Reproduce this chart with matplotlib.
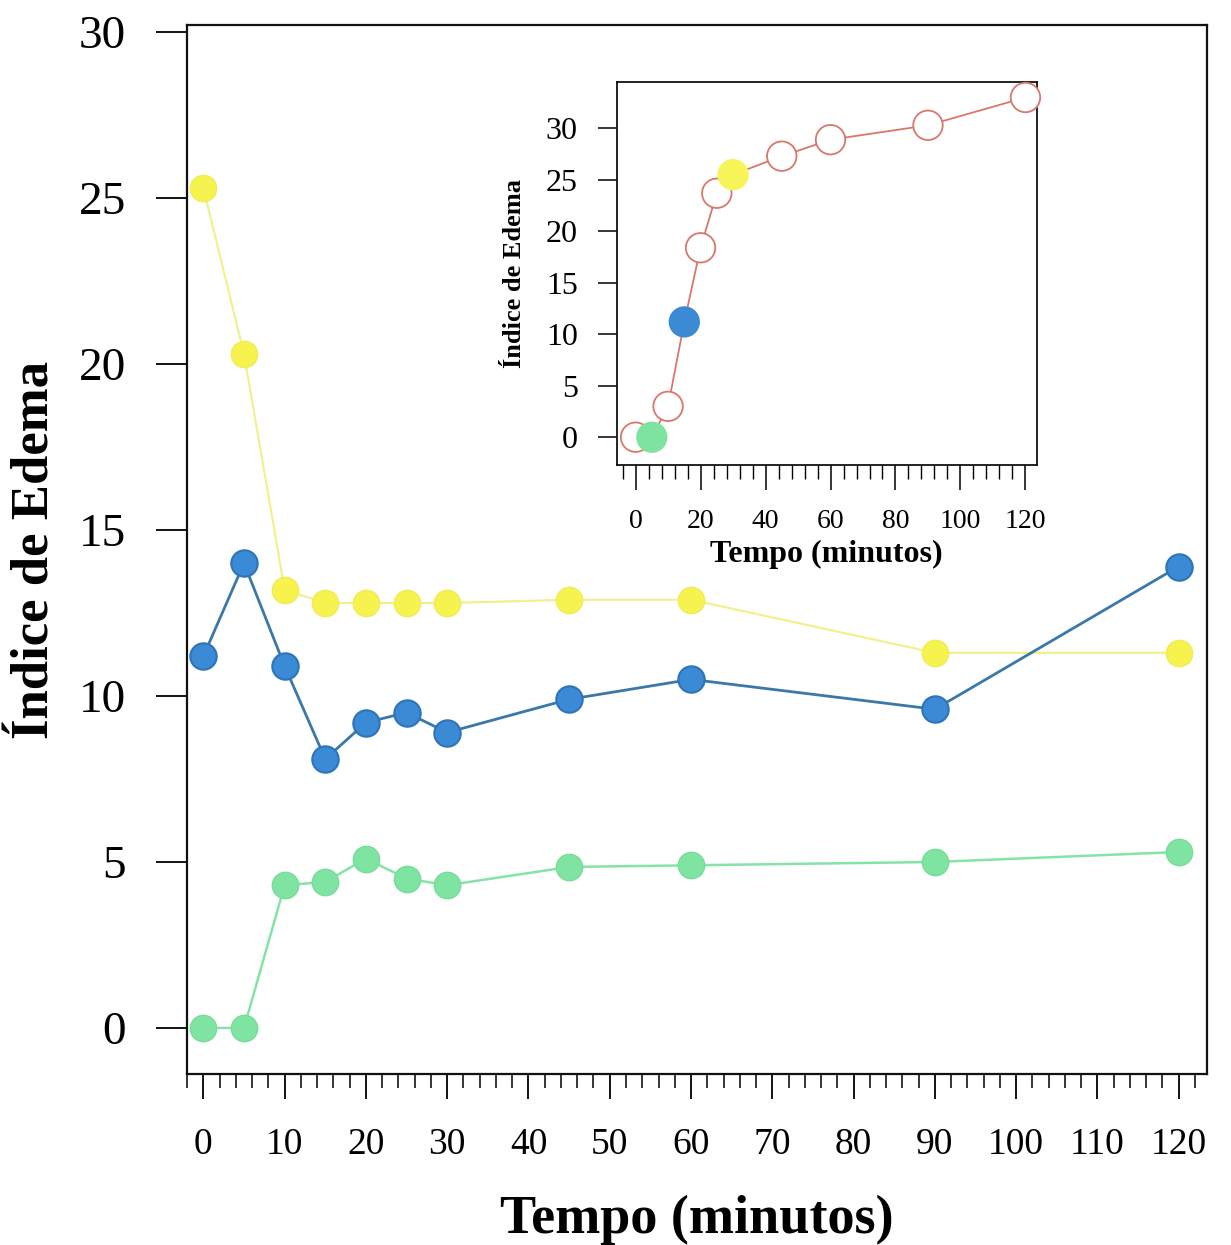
import matplotlib
matplotlib.use("Agg")
import matplotlib.pyplot as plt
from matplotlib.ticker import MultipleLocator

plt.rcParams['font.family'] = ['Liberation Serif', 'DejaVu Serif']

# Main chart data
tempo = [0, 5, 10, 15, 20, 25, 30, 45, 60, 90, 120]
amarelo = [25.3, 20.3, 13.2, 12.8, 12.8, 12.8, 12.8, 12.9, 12.9, 11.3, 11.3]
azul = [11.2, 14.0, 10.9, 8.1, 9.2, 9.5, 8.9, 9.9, 10.5, 9.6, 13.9]
verde = [0.0, 0.0, 4.3, 4.4, 5.1, 4.5, 4.3, 4.85, 4.9, 5.0, 5.3]

# Inset data
tempo_inset = [0, 5, 10, 15, 20, 25, 30, 45, 60, 90, 120]
edema_inset = [0.0, 0.0, 3.0, 11.2, 18.4, 23.7, 25.5, 27.3, 28.9, 30.3, 33.0]
cores_inset = ['white', '#7de39f', 'white', '#3a8bd4', 'white', 'white',
               '#f7f457', 'white', 'white', 'white', 'white']

y_ticks = [0, 5, 10, 15, 20, 25, 30]
x_ticks = [0, 10, 20, 30, 40, 50, 60, 70, 80, 90, 100, 110, 120]
inset_y_ticks = [0, 5, 10, 15, 20, 25, 30]
inset_x_ticks = [0, 20, 40, 60, 80, 100, 120]

fig = plt.figure(figsize=(12.31, 12.45), dpi=100)
ax = fig.add_axes([0.152, 0.137, 0.8286, 0.8426])

ax.plot(tempo, amarelo, '-o', color='#f3ef8a', lw=1.5, ms=19,
        mfc='#f6f24e', mec='#f0ec5a', zorder=3)
ax.plot(tempo, azul, '-o', color='#3b78aa', lw=2, ms=19,
        mfc='#3a8ad6', mec='#2d74b8', mew=1.5, zorder=4)
ax.plot(tempo, verde, '-o', color='#86e3a8', lw=1.8, ms=19,
        mfc='#7fe3a1', mec='#78dc9a', zorder=3)

ax.set_xlim(-2, 123.5)
ax.set_ylim(-1.4, 30.2)
ax.set_xticks(x_ticks)
ax.set_yticks(y_ticks)
ax.xaxis.set_minor_locator(MultipleLocator(2))
ax.tick_params(axis='y', direction='out', length=22, width=1.3, labelsize=34, pad=22)
ax.tick_params(axis='x', which='major', direction='out', length=18, width=1.3,
               labelsize=27, pad=20)
ax.tick_params(axis='x', which='minor', direction='out', length=10, width=1.1)
for s in ax.spines.values():
    s.set_linewidth(1.6)
    s.set_color('#111111')
ax.set_xlabel('Tempo (minutos)', fontsize=39, fontweight='bold', labelpad=24)
ax.set_ylabel('Índice de Edema', fontsize=38, fontweight='bold', labelpad=14)

# Inset
ax2 = fig.add_axes([0.501, 0.6265, 0.341, 0.3076])
ax2.plot(tempo_inset, edema_inset, '-', color='#d9776a', lw=1.3, zorder=2)
ax2.scatter(tempo_inset, edema_inset, s=450, c=cores_inset,
            edgecolors=['#d9776a' if c == 'white' else c for c in cores_inset],
            linewidths=1.3, zorder=3, clip_on=False)
ax2.set_xlim(-5.8, 123.4)
ax2.set_ylim(-2.7, 34.5)
ax2.set_xticks(inset_x_ticks)
ax2.set_yticks(inset_y_ticks)
ax2.xaxis.set_minor_locator(MultipleLocator(4))
ax2.tick_params(axis='y', direction='out', length=14, width=1.1, labelsize=23, pad=14)
ax2.tick_params(axis='x', which='major', direction='out', length=18, width=1.1,
                labelsize=20, pad=14)
ax2.tick_params(axis='x', which='minor', direction='out', length=10, width=1.0)
for s in ax2.spines.values():
    s.set_linewidth(1.3)
    s.set_color('#111111')
ax2.set_xlabel('Tempo (minutos)', fontsize=23, fontweight='bold', labelpad=4)
ax2.set_ylabel('Índice de Edema', fontsize=19, fontweight='bold', labelpad=14)

fig.savefig('out.png', dpi=100, facecolor='white')
